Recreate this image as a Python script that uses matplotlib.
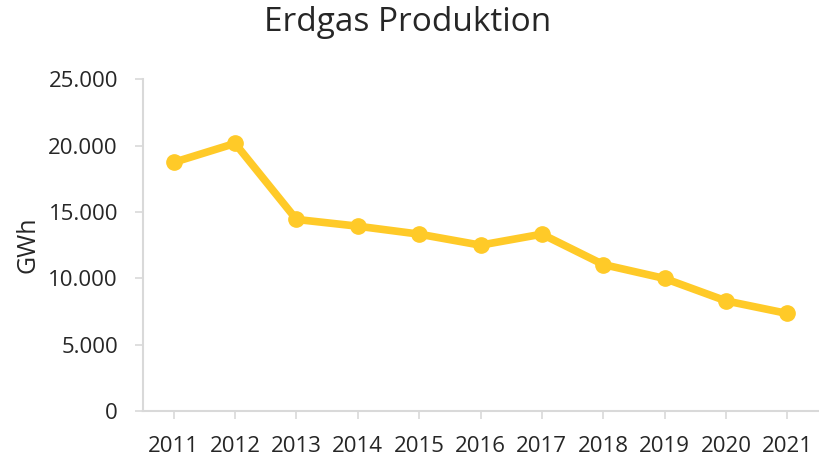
import matplotlib
matplotlib.use('Agg')
import matplotlib.pyplot as plt
from matplotlib.ticker import FuncFormatter

plt.rcParams['font.family'] = ['Open Sans', 'DejaVu Sans']

years = ['2011', '2012', '2013', '2014', '2015', '2016', '2017', '2018', '2019', '2020', '2021']
gwh = [18740, 20170, 14440, 13930, 13330, 12500, 13330, 11040, 9990, 8300, 7350]

fig = plt.figure(figsize=(8.19, 4.62), dpi=100)
ax = fig.add_axes([0.1746, 0.1104, 0.8242, 0.7179])

x = range(len(years))
ax.plot(x, gwh, color='#FFCA28', linewidth=5.5, marker='o', markersize=11,
        solid_capstyle='round', solid_joinstyle='round')

ax.set_xlim(-0.5, len(years) - 0.5)
ax.set_ylim(0, 25000)
ax.set_yticks(range(0, 25001, 5000))
ax.yaxis.set_major_formatter(FuncFormatter(lambda v, p: f'{int(v):,}'.replace(',', '.')))
ax.set_xticks(list(x))
ax.set_xticklabels(years)

for s in ['top', 'right']:
    ax.spines[s].set_visible(False)
for s in ['left', 'bottom']:
    ax.spines[s].set_color('#d9d9d9')
    ax.spines[s].set_linewidth(1.5)
ax.tick_params(axis='both', colors='#d9d9d9', labelcolor='#262626', labelsize=16, length=6, width=1.2)
ax.tick_params(axis='x', pad=12)
ax.tick_params(axis='y', pad=12)

ax.set_ylabel('GWh', fontsize=18, color='#262626', labelpad=6)
fig.text(0.498, 0.952, 'Erdgas Produktion', ha='center', va='center', fontsize=24, color='#262626')

fig.savefig('out.png', dpi=100)
